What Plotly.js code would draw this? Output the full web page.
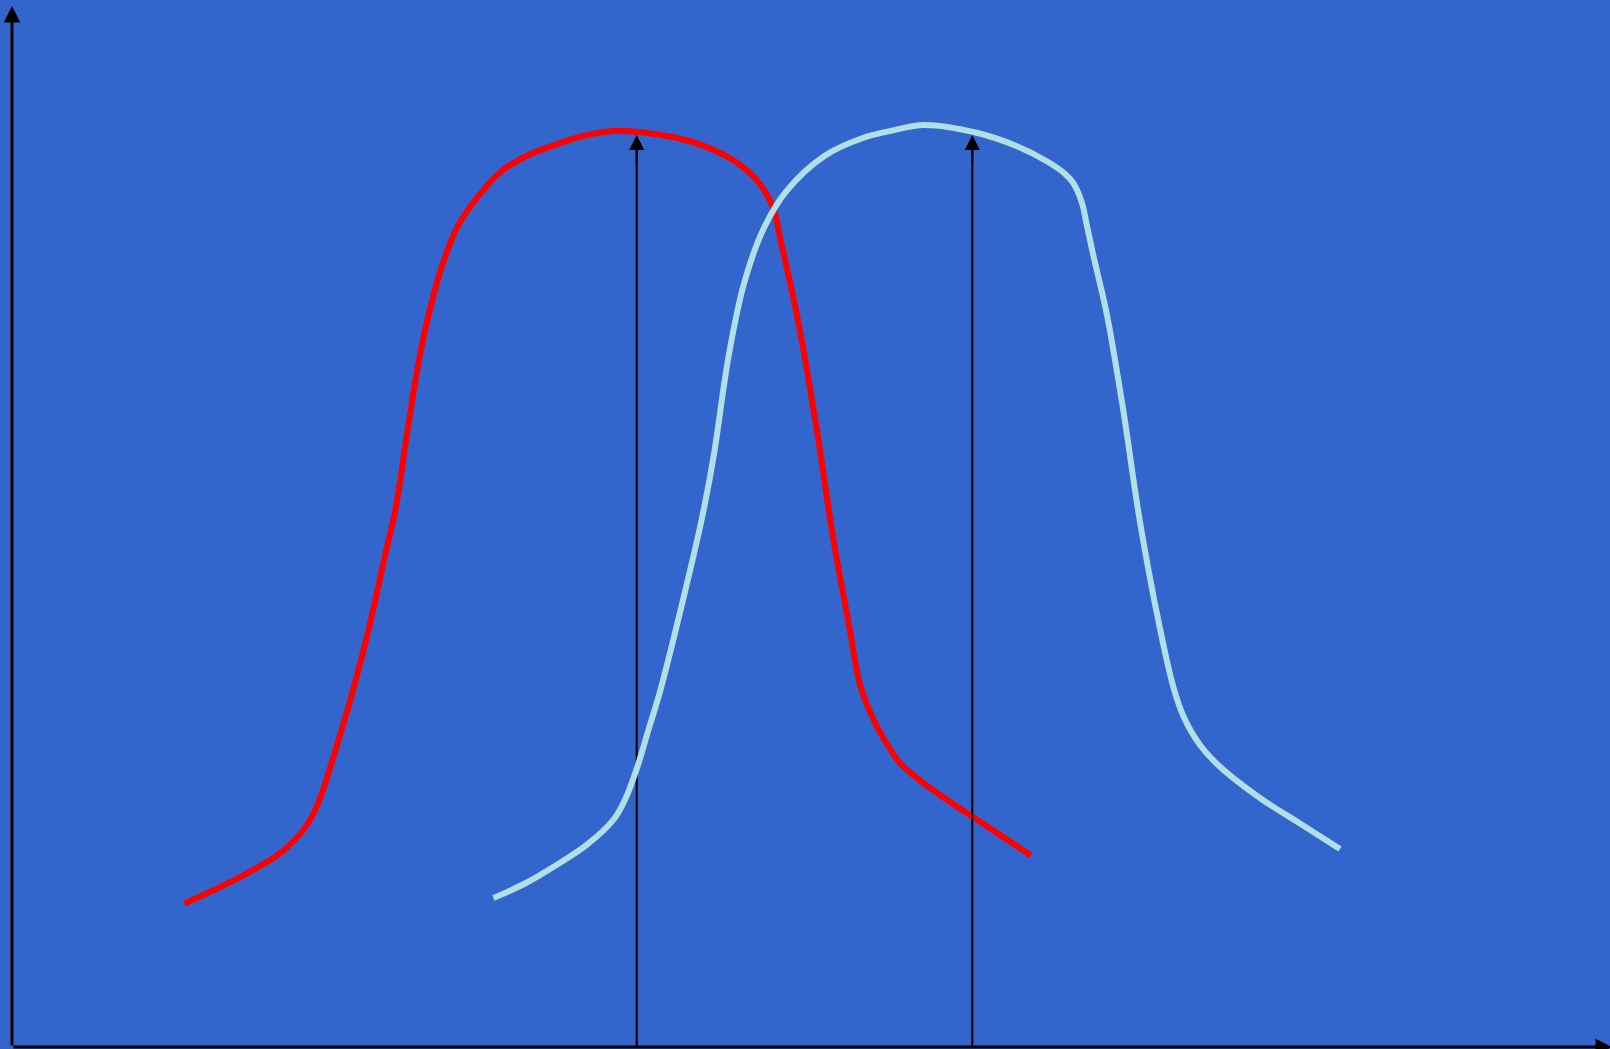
<!DOCTYPE html>
<html>
<head>
<meta charset="utf-8">
<script src="https://cdn.plot.ly/plotly-3.0.1.min.js"></script>
<style>
  html, body { margin: 0; padding: 0; background: #3366CC; }
  #chart { width: 1610px; height: 1049px; }
</style>
</head>
<body>
<div id="chart"></div>
<script>
const redX  = [172.5, 204, 234.5, 269, 292, 301.5, 311, 322.6, 338, 357, 372, 383.8, 395, 406.8, 418, 429.7, 445, 464, 491, 517.7, 540.7, 571, 602, 655.5, 693.8, 724.4, 747, 761.3, 768, 778, 788, 804.7, 821, 838, 848, 861.3, 874.7, 888, 908, 928, 961, 1019];
const redY  = [143.6, 158, 173.4, 194.3, 218, 233.5, 257, 294, 346, 419, 487, 539.5, 613, 686, 738, 780, 819.3, 848, 877, 892.5, 901.4, 911, 916, 911, 900.4, 884.7, 864, 839, 809.3, 765, 716, 618, 510, 416.4, 362.4, 328, 303.4, 284, 266.6, 252, 230, 191.5];

const blueX = [481.4, 514, 544.5, 575, 602, 613.4, 625, 636.4, 648, 671, 690, 701.5, 716.8, 732, 751, 774, 812.4, 850.7, 881, 912, 965.5, 1003.8, 1034.4, 1052, 1061, 1069.7, 1075, 1081.3, 1094.7, 1111.3, 1128, 1148, 1161.3, 1171.3, 1188, 1208, 1248, 1288, 1328];
const blueY = [149, 164, 182, 202.3, 228, 248.2, 279, 317, 355.4, 447, 529, 590, 692, 763.5, 817, 855.4, 891, 909, 916.6, 922, 914, 901.3, 886, 874, 864.3, 845, 821, 791.6, 733.4, 636.5, 525, 418.3, 360.2, 331, 302, 280.2, 249, 223.5, 198];

// Peak marker arrows (x position and arrow tip height)
const peakX = [624.7, 960.3];
const peakTipY = [912, 912];

// Axis extents
const xAxisEnd = 1600;
const yAxisEnd = 1041;

const traces = [
  { x: redX, y: redY, mode: 'lines', line: { color: '#FF0000', width: 6, shape: 'spline', smoothing: 1 }, hoverinfo: 'skip' }
];
// arrow shafts, drawn between the red and light-blue curves
peakX.forEach((px, i) => {
  traces.push({ x: [px, px], y: [0, peakTipY[i] - 12], mode: 'lines', line: { color: '#000000', width: 2 }, hoverinfo: 'skip' });
});
traces.push({ x: blueX, y: blueY, mode: 'lines', line: { color: '#B0E0E6', width: 6, shape: 'spline', smoothing: 1 }, hoverinfo: 'skip' });

const annotations = [];
// axes
annotations.push({ x: 0, y: yAxisEnd, ax: 0, ay: 0, xref: 'x', yref: 'y', axref: 'x', ayref: 'y',
  text: '', showarrow: true, arrowhead: 2, arrowsize: 1.1, arrowwidth: 3, arrowcolor: '#000000' });
annotations.push({ x: xAxisEnd, y: 0, ax: 0, ay: 0, xref: 'x', yref: 'y', axref: 'x', ayref: 'y',
  text: '', showarrow: true, arrowhead: 2, arrowsize: 1.1, arrowwidth: 3, arrowcolor: '#000000' });
// peak arrow heads
peakX.forEach((px, i) => {
  annotations.push({ x: px, y: peakTipY[i], ax: px, ay: peakTipY[i] - 30, xref: 'x', yref: 'y', axref: 'x', ayref: 'y',
    text: '', showarrow: true, arrowhead: 2, arrowsize: 1.5, arrowwidth: 2, arrowcolor: '#000000' });
});

const layout = {
  width: 1610, height: 1049,
  margin: { l: 0, r: 0, t: 0, b: 0, pad: 0 },
  paper_bgcolor: '#3366CC', plot_bgcolor: '#3366CC',
  showlegend: false,
  xaxis: { range: [-12, 1598], showgrid: false, zeroline: false, showticklabels: false, showline: false, ticks: '', fixedrange: true },
  yaxis: { range: [-2, 1047], showgrid: false, zeroline: false, showticklabels: false, showline: false, ticks: '', fixedrange: true },
  annotations: annotations
};

Plotly.newPlot('chart', traces, layout, { displayModeBar: false, staticPlot: true });
</script>
</body>
</html>
